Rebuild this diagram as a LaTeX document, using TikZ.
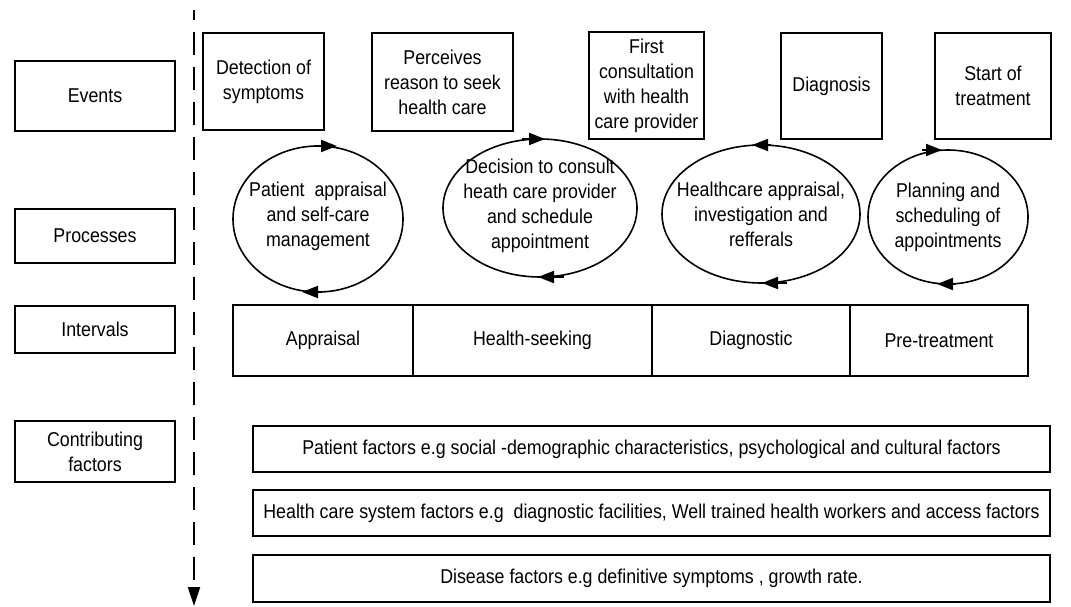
\documentclass[tikz,border=0pt]{standalone}
\usepackage{fontspec}
\setmainfont{Liberation Sans}[FakeStretch=0.89]
\usetikzlibrary{shapes,arrows.meta,positioning}

\begin{document}
\begin{tikzpicture}[
    x=1pt, y=-1pt,
    every node/.style={font=\fontsize{20}{25}\selectfont, align=center,
        inner sep=0pt, outer sep=0pt},
    LabelShape/.style={rectangle, draw, line width=2pt, minimum width=160pt},
    EventShape/.style={rectangle, draw, line width=2pt},
    ProcessShape/.style={ellipse, draw, line width=1.6pt},
    IntervalShape/.style={rectangle, draw, line width=2pt,
        minimum height=71pt},
    FactorShape/.style={rectangle, draw, line width=2pt,
        minimum width=797pt, minimum height=46pt},
    CycleArrow/.style={line width=2pt,
        -{Triangle[length=16pt,width=12pt]}},
    TimeLine/.style={line width=2pt, dash pattern=on 23pt off 12pt,
        dash phase=13pt, -{Triangle[length=19pt,width=12pt]}}
]
\useasboundingbox (0,0) rectangle (1071,607);

% row labels
\node (events) [LabelShape, minimum height=70pt] at (95,96) {Events};
\node (processes) [LabelShape, minimum height=54pt] at (95,236) {Processes};
\node (intervals) [LabelShape, minimum height=47pt] at (95,329.5) {Intervals};
\node (contrib) [LabelShape, minimum height=61pt] at (95,451.5)
    {Contributing\\factors};

% time axis
\coordinate (timetop) at (194,10);
\coordinate (timeend) at (194,606);
\draw [TimeLine] (timetop) -- (timeend);

% events
\node (detect) [EventShape, minimum width=121pt, minimum height=97pt]
    at (263.5,81.5) {Detection of\\symptoms};
\node (perceive) [EventShape, minimum width=141pt, minimum height=98pt]
    at (442.5,82) {Perceives\\reason to seek\\health care};
\node (consult) [EventShape, minimum width=115pt, minimum height=107pt]
    at (646.5,85.5) {First\\consultation\\with health\\care provider};
\node (diagnosis) [EventShape, minimum width=101pt, minimum height=106pt]
    at (831.5,86) {Diagnosis};
\node (start) [EventShape, minimum width=116pt, minimum height=106pt]
    at (993,86) {Start of\\treatment};

% processes (text as centre labels so the ellipse keeps its size)
\node (selfcare) [ProcessShape, minimum width=170pt, minimum height=146pt,
    label={[yshift=3pt]center:{Patient~~appraisal\\and self-care\\management}}]
    at (318,219) {};
\node (decide) [ProcessShape, minimum width=194pt, minimum height=138pt,
    label={[yshift=2pt]center:{Decision to consult\\heath care provider\\and schedule\\appointment}}]
    at (540,208) {};
\node (investigate) [ProcessShape, minimum width=198pt, minimum height=138pt,
    label={center:{Healthcare appraisal,\\investigation and\\refferals}}]
    at (761,214) {};
\node (planning) [ProcessShape, minimum width=160pt, minimum height=134pt,
    label={center:{Planning and\\scheduling of\\appointments}}]
    at (948,217) {};

\draw [CycleArrow] ([xshift=-4pt]selfcare.north) -- ([xshift=19pt]selfcare.north);
\draw [CycleArrow] ([xshift=4pt]selfcare.south) -- ([xshift=-16pt]selfcare.south);
\draw [CycleArrow] ([xshift=-18pt]decide.north) -- ([xshift=5pt]decide.north);
\draw [CycleArrow] ([xshift=24pt]decide.south) -- ([xshift=-2pt]decide.south);
\draw [CycleArrow] ([xshift=10pt]investigate.north) -- ([xshift=-9pt]investigate.north);
\draw [CycleArrow] ([xshift=26pt]investigate.south) -- ([xshift=1pt]investigate.south);
\draw [CycleArrow] ([xshift=-26pt]planning.north) -- ([xshift=-6pt]planning.north);
\draw [CycleArrow] ([xshift=8pt]planning.south) -- ([xshift=-11pt]planning.south);

% intervals
\node (appraisal) [IntervalShape, minimum width=180pt] at (323,340.5) {Appraisal};
\node (seeking) [IntervalShape, minimum width=239pt, right=0pt of appraisal]
    {Health-seeking};
\node (diagnostic) [IntervalShape, minimum width=198pt, right=0pt of seeking]
    {Diagnostic};
\node (pretreat) [IntervalShape, minimum width=178pt, right=0pt of diagnostic]
    {Pre-treatment};

% contributing factors
\node (patientf) [FactorShape] at (651.5,449)
    {Patient factors e.g social -demographic characteristics, psychological and cultural factors};
\node (systemf) [FactorShape] at (651.5,513)
    {Health care system factors e.g~~diagnostic facilities, Well trained health workers and access factors};
\node (diseasef) [FactorShape, minimum height=47pt] at (651.5,578.5)
    {Disease factors e.g definitive symptoms , growth rate.};
\end{tikzpicture}
\end{document}
